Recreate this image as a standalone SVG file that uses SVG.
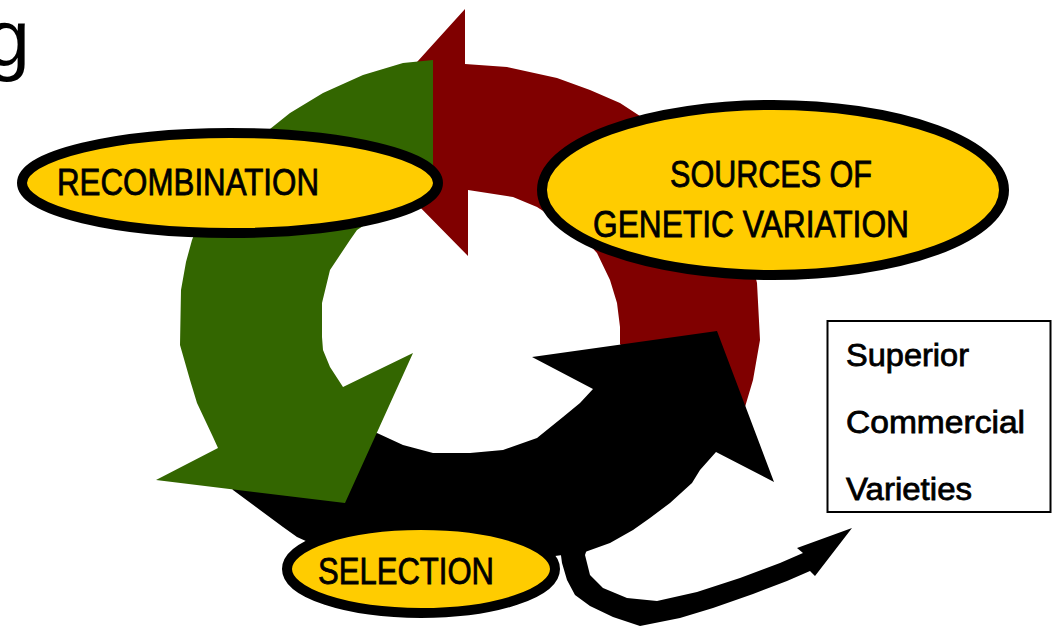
<svg xmlns="http://www.w3.org/2000/svg" width="1057" height="628" viewBox="0 0 1057 628">
  <style>
    .lbl { font-family: "Liberation Sans", Arial, sans-serif; fill: #000; stroke: #000; stroke-width: 0.8; }
    .ttl { font-family: "Liberation Sans", Arial, sans-serif; fill: #000; }
    .oval { fill: #FFCC00; stroke: #000; stroke-width: 10; }
    .red { fill: #800000; }
    .grn { fill: #336600; }
    .blk { fill: #000; }
  </style>
  <rect width="1057" height="628" fill="#fff"/>
  <g id="title">
    <text class="ttl" x="30" y="65" font-size="80" text-anchor="end">g</text>
  </g>
  <g id="connectors">
    <path id="arrow-variation" class="red" d="M350,136 L465,9 L465,64 L507,67 L557,78 L590,90 L620,103 L643,118 L700,155 L740,215 L757,283 L760,340 L753,380 L745,407 L720,420 L640,372 L620,344 L620,327 L617,303 L610,280 L597,253 L585,240 L560,222 L537,207 L513,197 L468,190 L468,256 Z"/>
    <path id="arrow-selection" class="blk" d="M233,490 L260,510 L283,527 L297,537 L330,552 L420,566 L500,566 L555,556 L585,552 L610,543 L633,530 L650,518 L670,503 L692,483 L700,470 L716,452 L774,482 L717,331 L532,357 L593,389 L580,403 L563,417 L537,438 L503,450 L470,453 L433,453 L403,445 L377,433 L330,445 L220,470 Z"/>
    <path id="arrow-recombination" class="grn" d="M433,60 L403,63 L363,75 L323,93 L290,113 L265,133 L215,180 L198,225 L192,240 L186,262 L181,290 L180,345 L190,380 L197,403 L213,437 L218,448 L156,480 L345,503 L413,353 L343,387 L330,367 L323,350 L322,337 L322,303 L330,270 L340,255 L350,240 L357,230 L395,205 L433,190 Z"/>
    <path id="arrow-varieties" class="blk" d="M560,548 L562,563 L567,580 L575,595 L590,606 L613,617 L640,626 L680,618 L713,608 L753,594 L787,581 L810,571 L815,576 L852,528 L797,548 L803,553 L780,563 L740,578 L697,592 L657,601 L627,598 L603,588 L590,575 L585,555 L590,540 Z"/>
  </g>
  <g id="recombination">
    <ellipse class="oval" cx="230" cy="183" rx="208" ry="50"/>
    <text class="lbl" x="57" y="195" font-size="37" textLength="262" lengthAdjust="spacingAndGlyphs">RECOMBINATION</text>
  </g>
  <g id="sources">
    <ellipse class="oval" cx="773" cy="190" rx="231" ry="85"/>
    <text class="lbl" x="670" y="187" font-size="37" textLength="202" lengthAdjust="spacingAndGlyphs">SOURCES OF</text>
    <text class="lbl" x="593" y="237" font-size="37" textLength="316" lengthAdjust="spacingAndGlyphs">GENETIC VARIATION</text>
  </g>
  <g id="selection">
    <ellipse class="oval" cx="421" cy="569" rx="134" ry="44"/>
    <text class="lbl" x="318" y="584" font-size="37" textLength="176" lengthAdjust="spacingAndGlyphs">SELECTION</text>
  </g>
  <g id="varieties">
    <rect x="827.5" y="321" width="223" height="191" fill="#fff" stroke="#000" stroke-width="2"/>
    <text class="lbl" x="846" y="366" font-size="32" textLength="123" lengthAdjust="spacingAndGlyphs">Superior</text>
    <text class="lbl" x="846" y="433" font-size="32" textLength="179" lengthAdjust="spacingAndGlyphs">Commercial</text>
    <text class="lbl" x="846" y="500" font-size="32" textLength="126" lengthAdjust="spacingAndGlyphs">Varieties</text>
  </g>
</svg>
